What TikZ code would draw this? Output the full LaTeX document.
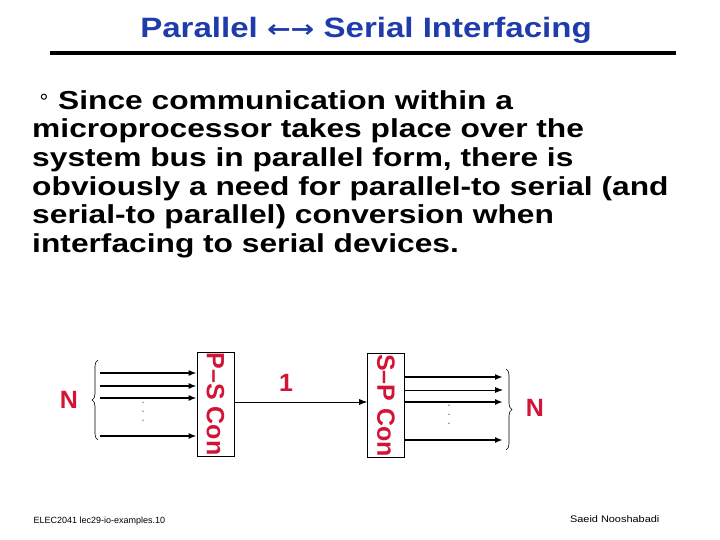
\documentclass[tikz,border=0pt]{standalone}
\usepackage{fontspec}
\setmainfont{Liberation Sans}
\newfontfamily\dejavu{DejaVu Sans}
\usetikzlibrary{arrows.meta,decorations.pathreplacing}
\definecolor{tblue}{RGB}{30,60,170}
\definecolor{tred}{RGB}{210,20,55}
\tikzset{
 conv/.style={draw,line width=0.6pt,minimum width=37pt,minimum height=104pt,inner sep=0pt},
 lbl/.style={text=tred,font=\bfseries\fontsize{25}{25}\selectfont},
 bus/.style={line width=1.6pt,-{Latex[length=8pt,width=6pt]}},
 ser/.style={line width=0.7pt,-{Latex[length=8pt,width=6pt]}},
 brc/.style={decorate,decoration={brace,amplitude=6pt},line width=0.6pt},
 dots/.style={font=\fontsize{12}{12}\selectfont,inner sep=0pt,align=center},
}
\begin{document}
\begin{tikzpicture}[x=1pt,y=-1pt]
\useasboundingbox (0,0) rectangle (720,540);
\node[text=tblue,font=\bfseries\fontsize{28}{28}\selectfont,xscale=1.18,transform shape] (title) at (366,30) {Parallel {\dejavu\fontsize{24}{24}\selectfont ←→} Serial Interfacing};
\draw[line width=4pt] (50,53) -- (676,53);
\node[font=\fontsize{22}{22}\selectfont] (bul) at (44,102) {°};
\node[anchor=north west,align=left,font=\bfseries\fontsize{26}{28.7}\selectfont,inner sep=0pt,xscale=1.22,transform shape] (txt) at (32,90)
{\hspace{21.3pt}Since communication within a\\microprocessor takes place over the\\system bus in parallel form, there is\\obviously a need for parallel-to serial (and\\serial-to parallel) conversion when\\interfacing to serial devices.};
\node[conv] (ps) at (215.5,404) {};
\node[conv] (sp) at (386,405.5) {};
\node[lbl,rotate=-90] (pst) at (ps.center) {P–S Con};
\node[lbl,rotate=-90] (spt) at (sp.center) {S–P Con};
\foreach \y/\w in {373/1.6pt,386/1.6pt,398/1.6pt,436/1.6pt}
 \draw[bus,line width=\w] (100,\y) -- (ps.west |- 0,\y);
\foreach \y/\w in {377/1.6pt,390/0.8pt,402/1.6pt,440/1.6pt}
 \draw[bus,line width=\w] (sp.east |- 0,\y) -- (503,\y);
\node[dots,text=black!60] (d1) at (143,412) {.\\[-3pt].\\[-3pt].};
\node[dots,text=black!60] (d2) at (449,415) {.\\[-3pt].\\[-3pt].};
\draw[ser] (ps.east |- 0,402) -- (sp.west |- 0,402);
\node[lbl] (one) at (286,383) {1};
\draw[brc] (98,440) -- (98,360);
\draw[brc] (506,369) -- (506,450);
\node[lbl] (n1) at (69,400) {N};
\node[lbl] (n2) at (535,408) {N};
\node[anchor=west,font=\fontsize{9}{9}\selectfont] (f1) at (30,521) {ELEC2041 lec29-io-examples.10};
\node[anchor=west,font=\fontsize{9.5}{9.5}\selectfont,xscale=1.15,transform shape] (f2) at (566,519) {Saeid Nooshabadi};
\end{tikzpicture}
\end{document}
